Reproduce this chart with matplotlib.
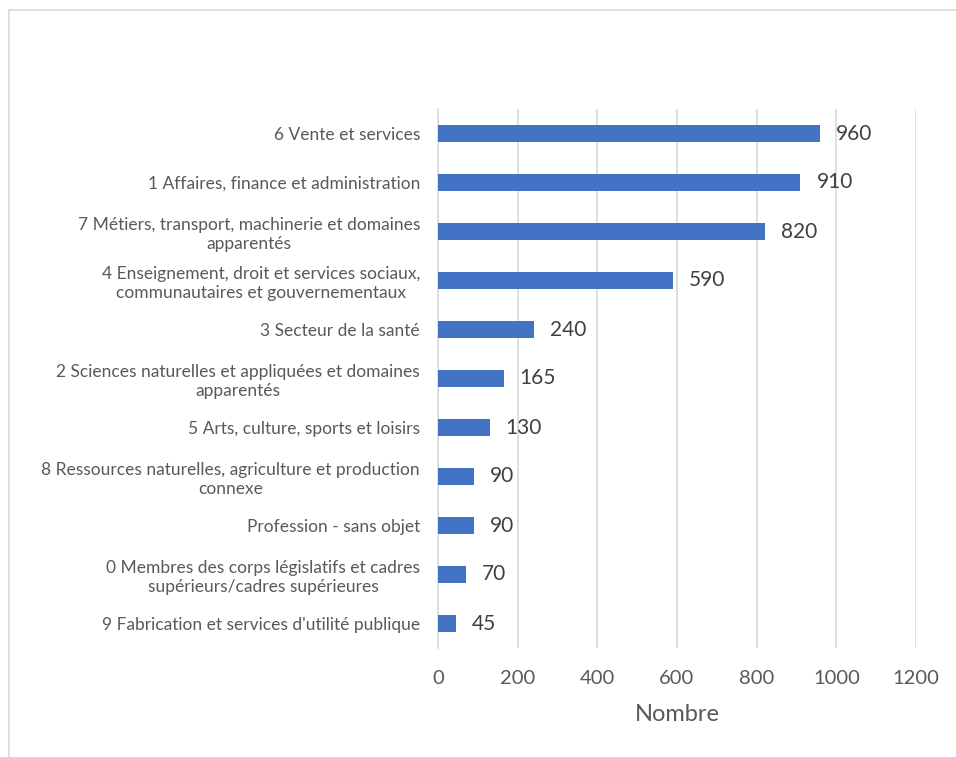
import matplotlib.pyplot as plt
from matplotlib.patches import Rectangle

categories = [
    "6 Vente et services",
    "1 Affaires, finance et administration",
    "7 Métiers, transport, machinerie et domaines\napparentés",
    "4 Enseignement, droit et services sociaux,\ncommunautaires et gouvernementaux",
    "3 Secteur de la santé",
    "2 Sciences naturelles et appliquées et domaines\napparentés",
    "5 Arts, culture, sports et loisirs",
    "8 Ressources naturelles, agriculture et production\nconnexe",
    "Profession - sans objet",
    "0 Membres des corps législatifs et cadres\nsupérieurs/cadres supérieures",
    "9 Fabrication et services d'utilité publique",
]
values = [960, 910, 820, 590, 240, 165, 130, 90, 90, 70, 45]
xticks = [0, 200, 400, 600, 800, 1000, 1200]

plt.rcParams['font.family'] = ['Lato', 'DejaVu Sans']

fig = plt.figure(figsize=(9.56, 7.57), dpi=100)
ax = fig.add_axes([438 / 956, 1 - 648 / 757, (916 - 438) / 956, (648 - 109) / 757])

# outer chart border (only left and top visible in the crop)
fig.patches.append(Rectangle((9 / 956, -0.1), 1.2, 1.1 - 10 / 757,
                             transform=fig.transFigure, fill=False,
                             edgecolor="#D9D9D9", linewidth=1.2))

ypos = list(range(len(values)))
ax.barh(ypos, values, height=0.36, color="#4472C4", zorder=3)
for y, v in zip(ypos, values):
    ax.text(v + 40, y, str(v), va="center", ha="left", fontsize=15, color="#404040")

ax.set_ylim(len(values) - 0.5, -0.5)
ax.set_xlim(0, 1200)
ax.set_xticks(xticks)
ax.set_xticklabels([str(t) for t in xticks], fontsize=14.5, color="#595959")
ax.set_yticks(ypos)
ax.set_yticklabels(categories, fontsize=12.5, color="#595959",
                   multialignment="center", linespacing=1.25)
ax.tick_params(axis="both", length=0)
ax.tick_params(axis="y", pad=13)
ax.tick_params(axis="x", pad=16)
ax.grid(axis="x", color="#D9D9D9", linewidth=1.2, zorder=0)
for s in ["top", "right", "bottom"]:
    ax.spines[s].set_visible(False)
ax.spines["left"].set_color("#D9D9D9")
ax.spines["left"].set_linewidth(1.2)
ax.set_xlabel("Nombre", fontsize=17, color="#595959", labelpad=12)

fig.savefig("out.png", dpi=100)
